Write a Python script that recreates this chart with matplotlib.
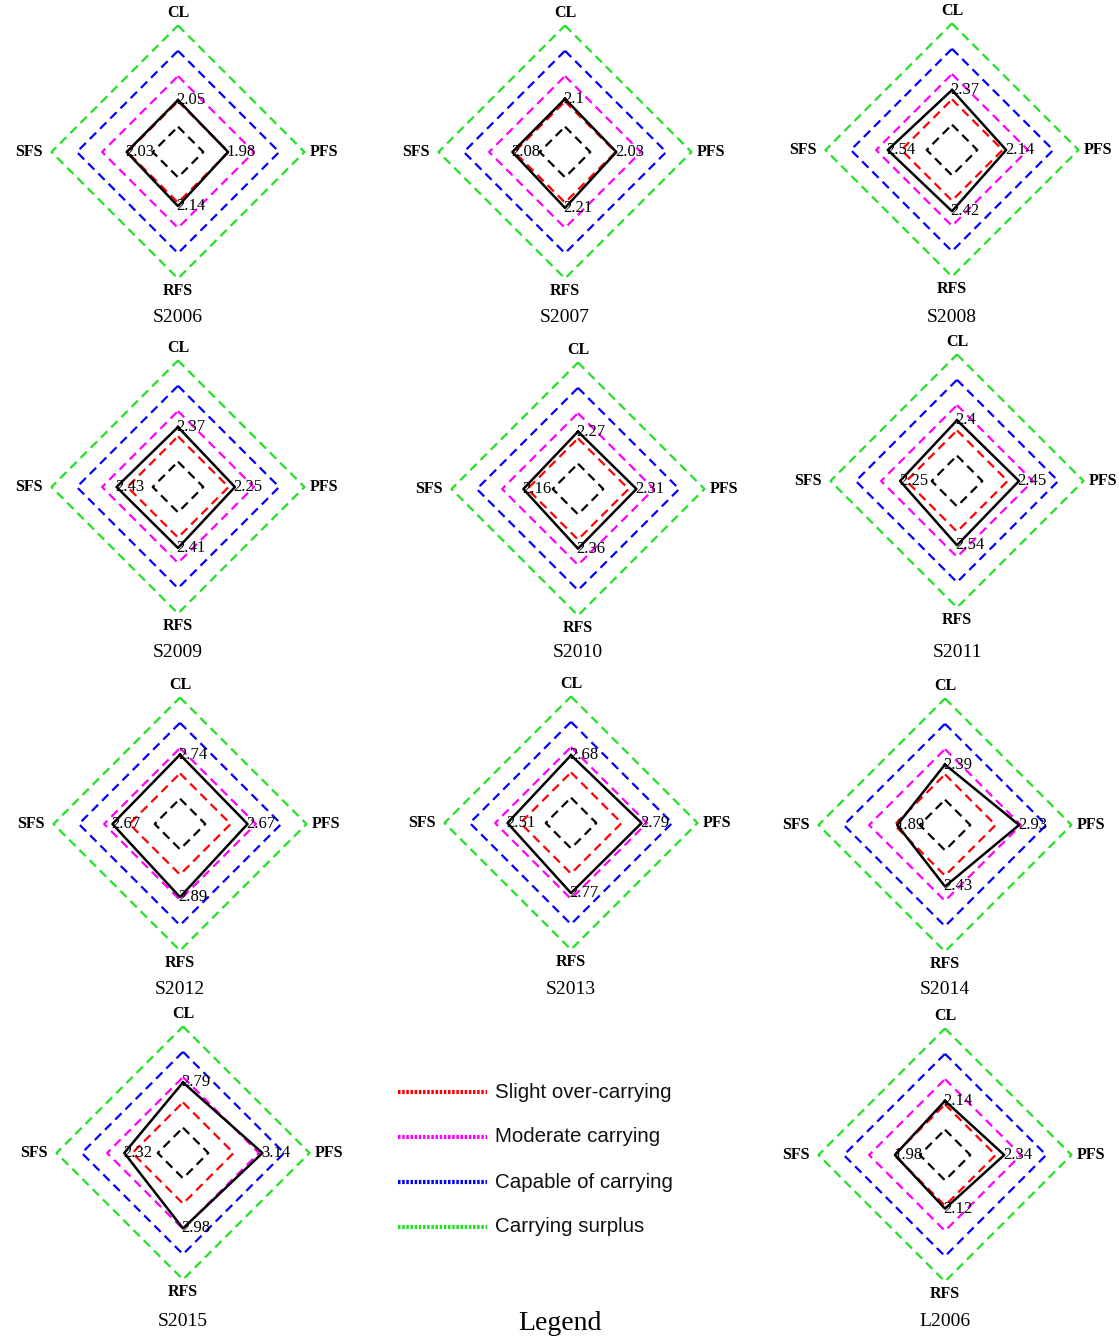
import matplotlib
matplotlib.use("Agg")
import matplotlib.pyplot as plt

# panel names and the four indicator values (CL, PFS, RFS, SFS)
panels = ["S2006", "S2007", "S2008", "S2009", "S2010", "S2011",
          "S2012", "S2013", "S2014", "S2015", "L2006"]
cl = [2.05, 2.1, 2.37, 2.37, 2.27, 2.4, 2.74, 2.68, 2.39, 2.79, 2.14]
pfs = [1.98, 2.03, 2.14, 2.25, 2.31, 2.45, 2.67, 2.79, 2.93, 3.14, 2.34]
rfs = [2.14, 2.21, 2.42, 2.41, 2.36, 2.54, 2.89, 2.77, 2.43, 2.98, 2.12]
sfs = [2.03, 2.08, 2.54, 2.43, 2.16, 2.25, 2.67, 2.51, 1.89, 2.32, 1.98]

axis_names = ["CL", "PFS", "RFS", "SFS"]
levels = [1, 2, 3, 4, 5]
level_colors = ["black", "#ff0000", "#ff00ff", "#0000ff", "#22e022"]
legend_labels = ["Slight over-carrying", "Moderate carrying",
                 "Capable of carrying", "Carrying surplus"]

W, H = 1119, 1340
fig = plt.figure(figsize=(W / 100, H / 100), dpi=100)

# panel centres in pixels (x, y from top)
centers = [(178, 152), (565, 152), (952, 150),
           (178, 487), (578, 489), (957, 481),
           (180, 824), (571, 823), (945, 825),
           (183, 1153), (945, 1155)]
title_y = [318, 318, 318, 653, 653, 653, 989, 989, 989, 1322, 1322]

PX = 25.3   # pixels per unit
BOX = 340   # axes size in pixels
lim = BOX / 2 / PX

serif = "Liberation Serif"

for i, name in enumerate(panels):
    cx, cy = centers[i]
    ax = fig.add_axes([(cx - BOX / 2) / W, 1 - (cy + BOX / 2) / H, BOX / W, BOX / H])
    ax.set_xlim(-lim, lim)
    ax.set_ylim(-lim, lim)
    ax.axis("off")

    for lv, c in zip(levels, level_colors):
        ax.plot([0, lv, 0, -lv, 0], [lv, 0, -lv, 0, lv], color=c, lw=1.6,
                linestyle=(0, (4, 2.5)))

    v = [cl[i], pfs[i], rfs[i], sfs[i]]
    xs = [0, v[1], 0, -v[3], 0]
    ys = [v[0], 0, -v[2], 0, v[0]]
    ax.plot(xs, ys, color="black", lw=1.8)

    for x, y, val in zip(xs[:4], ys[:4], v):
        ax.text(x - 0.05, y, f"{val:g}", ha="left", va="center",
                fontsize=12, family=serif, color="black")

    ax.text(0, 5.5, "CL", ha="center", va="center", fontsize=11.5,
            fontweight="bold", family=serif)
    ax.text(5.75, 0, "PFS", ha="center", va="center", fontsize=11.5,
            fontweight="bold", family=serif)
    ax.text(0, -5.5, "RFS", ha="center", va="center", fontsize=11.5,
            fontweight="bold", family=serif)
    ax.text(-5.9, 0, "SFS", ha="center", va="center", fontsize=11.5,
            fontweight="bold", family=serif)

    fig.text(cx / W, 1 - title_y[i] / H, name, ha="center", va="center",
             fontsize=14, family=serif)

# legend panel
for k, lab in enumerate(legend_labels):
    yy = 1 - (1092 + 45 * k) / H
    fig.add_artist(plt.Line2D([398 / W, 487 / W], [yy, yy],
                              color=level_colors[k + 1], lw=3,
                              linestyle=(0, (0.6, 0.4))))
    fig.text(495 / W, yy, lab, ha="left", va="center", fontsize=14.8,
             family="Liberation Sans", color="#111111")

fig.text(560 / W, 1 - 1323 / H, "Legend", ha="center", va="center",
         fontsize=20, family=serif)

fig.savefig("out.png", dpi=100)
